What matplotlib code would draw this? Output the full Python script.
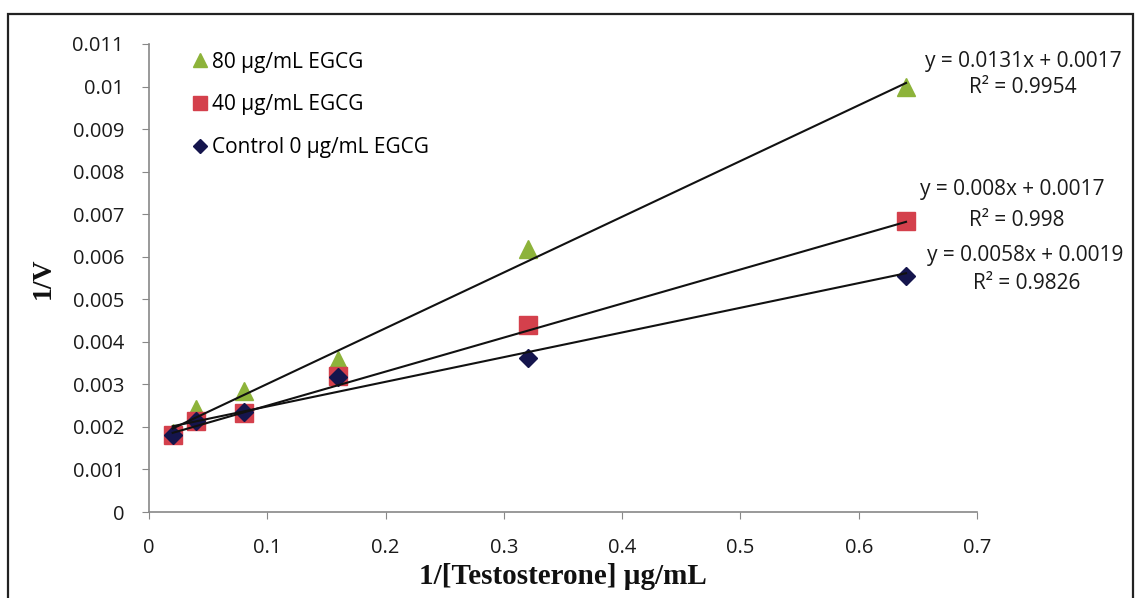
import numpy as np
import matplotlib
matplotlib.use("Agg")
import matplotlib.pyplot as plt
from matplotlib.patches import Rectangle

# ---- data ----
x_vals = [0.02, 0.04, 0.08, 0.16, 0.32, 0.64]
y_80 = [0.00185, 0.00242, 0.00285, 0.00357, 0.00618, 0.01000]
y_40 = [0.00181, 0.00214, 0.00232, 0.00320, 0.00440, 0.00685]
y_ctrl = [0.00181, 0.00214, 0.00236, 0.00318, 0.00362, 0.00555]

labels = ["80 µg/mL EGCG", "40 µg/mL EGCG", "Control 0 µg/mL EGCG"]
slopes = [0.0131, 0.008, 0.0058]
intercepts = [0.0017, 0.0017, 0.0019]
eq_texts = ["y = 0.0131x + 0.0017", "y = 0.008x + 0.0017", "y = 0.0058x + 0.0019"]
r2_texts = ["R² = 0.9954", "R² = 0.998", "R² = 0.9826"]

x_ticks = [0, 0.1, 0.2, 0.3, 0.4, 0.5, 0.6, 0.7]
x_tick_labels = ["0", "0.1", "0.2", "0.3", "0.4", "0.5", "0.6", "0.7"]
y_ticks = [0, 0.001, 0.002, 0.003, 0.004, 0.005, 0.006, 0.007, 0.008, 0.009, 0.01, 0.011]
y_tick_labels = ["0", "0.001", "0.002", "0.003", "0.004", "0.005", "0.006",
                 "0.007", "0.008", "0.009", "0.01", "0.011"]

plt.rcParams['font.family'] = ['Open Sans', 'DejaVu Sans']

fig = plt.figure(figsize=(11.36, 5.98), dpi=100)
ax = fig.add_axes([149/1136, 1-512/598, (977-149)/1136, (512-44)/598])

# figure border
fig.patches.append(Rectangle((8/1136, -0.05), (1133-8)/1136, 1.05 - 14/598,
                             transform=fig.transFigure, fill=False,
                             edgecolor="#222222", linewidth=1.6))

c_tri = "#8db33a"
c_sq = "#d4404c"
c_dia = "#15154d"

ax.plot(x_vals, y_80, linestyle="none", marker="^", ms=13, color=c_tri,
        markeredgecolor=c_tri, label=labels[0], zorder=3)
ax.plot(x_vals, y_40, linestyle="none", marker="s", ms=12.5, color=c_sq,
        markeredgecolor=c_sq, label=labels[1], zorder=4)
ax.plot(x_vals, y_ctrl, linestyle="none", marker="D", ms=9, color=c_dia,
        markeredgecolor=c_dia, label=labels[2], zorder=5)

xfit = np.array([x_vals[0], x_vals[-1]])
for m, b in zip(slopes, intercepts):
    ax.plot(xfit, m * xfit + b, color="#111111", lw=1.5, zorder=6)

# equation labels
eq_pos = [(0.739, 0.0106), (0.7296, 0.00759), (0.7405, 0.00602)]
r2_pos = [(0.739, 0.00997), (0.7338, 0.00686), (0.742, 0.00536)]
for t, (px, py) in zip(eq_texts, eq_pos):
    ax.text(px, py, t, ha="center", va="center", fontsize=15, clip_on=False,
            color="#1a1a1a")
for t, (px, py) in zip(r2_texts, r2_pos):
    ax.text(px, py, t, ha="center", va="center", fontsize=15, clip_on=False,
            color="#1a1a1a")

ax.set_xlim(0, 0.7)
ax.set_ylim(0, 0.011)
ax.set_xticks(x_ticks)
ax.set_xticklabels(x_tick_labels)
ax.set_yticks(y_ticks)
ax.set_yticklabels(y_tick_labels)
ax.tick_params(axis="both", direction="out", length=5, color="#888888",
               labelsize=14.5, labelcolor="#1a1a1a")
ax.tick_params(axis="y", pad=13)
ax.tick_params(axis="x", pad=14)
for s in ["top", "right"]:
    ax.spines[s].set_visible(False)
for s in ["left", "bottom"]:
    ax.spines[s].set_color("#888888")
    ax.spines[s].set_linewidth(1.2)

ax.set_xlabel("1/[Testosterone] µg/mL", fontfamily="Liberation Serif",
              fontweight="bold", fontsize=21, labelpad=3, color="#111111")
ax.set_ylabel("1/V", fontfamily="Liberation Serif", fontweight="bold",
              fontsize=20, labelpad=12, color="#111111")

leg = ax.legend(loc="upper left", bbox_to_anchor=(0.032, 1.024), frameon=False,
                fontsize=15, handlelength=0.6, handletextpad=0.25,
                labelspacing=1.05, markerscale=0.75)

fig.savefig("out.png", dpi=100)
